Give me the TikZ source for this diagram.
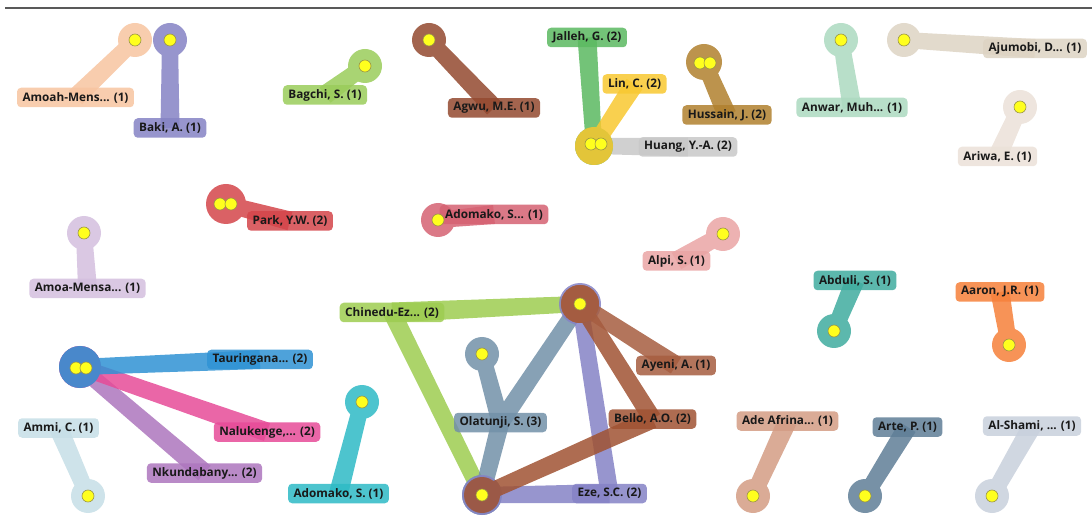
\documentclass[tikz,border=0pt]{standalone}
\usepackage{fontspec}
\setmainfont{Open Sans}
\usetikzlibrary{calc}
\pgfdeclarelayer{bg}
\pgfsetlayers{bg,main}
\definecolor{cAmoah}{HTML}{F7C4A0}
\definecolor{cBaki}{HTML}{8583C4}
\definecolor{cBagchi}{HTML}{9ACC5A}
\definecolor{cAgwu}{HTML}{93492F}
\definecolor{cJalleh}{HTML}{5BB960}
\definecolor{cLin}{HTML}{F8C830}
\definecolor{cHuang}{HTML}{C8C8C8}
\definecolor{cHussain}{HTML}{B0802E}
\definecolor{cAnwar}{HTML}{ACD9C0}
\definecolor{cAjumobi}{HTML}{DDD3C3}
\definecolor{cAriwa}{HTML}{EBE1D8}
\definecolor{cPark}{HTML}{D4454A}
\definecolor{cAdomakoA}{HTML}{D56172}
\definecolor{cAlpi}{HTML}{EAA4A4}
\definecolor{cAmoa}{HTML}{D3BEDE}
\definecolor{cAbduli}{HTML}{3FAC9F}
\definecolor{cAaron}{HTML}{F6803A}
\definecolor{cTaur}{HTML}{2F92D4}
\definecolor{cNaluk}{HTML}{E64B98}
\definecolor{cNkund}{HTML}{AD76BD}
\definecolor{cAmmi}{HTML}{C6DEE6}
\definecolor{cAdomakoB}{HTML}{2EBAC5}
\definecolor{cChin}{HTML}{9DCC50}
\definecolor{cOlat}{HTML}{7290A8}
\definecolor{cAyeni}{HTML}{A65D40}
\definecolor{cBello}{HTML}{A05232}
\definecolor{cEze}{HTML}{8582C6}
\definecolor{cAde}{HTML}{D39C84}
\definecolor{cArte}{HTML}{5F7E97}
\definecolor{cShami}{HTML}{C8D0DC}
\definecolor{cDot}{HTML}{FFFF1E}
\tikzset{
  grp/.style={transparency group, opacity=.85},
  lab/.style={fill=#1, fill opacity=.85, text opacity=1, rounded corners=4bp,
    minimum height=19.5bp, inner xsep=5.5bp, inner ysep=0pt,
    font=\fontsize{11.8}{13}\selectfont\bfseries, text=black!90},
  dot/.style={circle, minimum size=12bp, inner sep=0pt, fill=cDot,
    draw=black!45!yellow, line width=0.6bp},
}
\newcommand\band[4]{($(#1.center)!#3!90:(#2.center)$) -- ($(#1.center)!#3!-90:(#2.center)$) -- ($(#2.center)!#4!90:(#1.center)$) -- ($(#2.center)!#4!-90:(#1.center)$) -- cycle}
% #1 colour, #2 dot, #3 label, #4 radius
\newcommand\lol[4]{\begin{scope}[grp]
  \fill[#1] (#2.center) circle (#4);
  \fill[#1] \band{#2}{#3}{8bp}{9.5bp};
\end{scope}}
\begin{document}
\begin{tikzpicture}[x=1bp,y=-1bp]
\useasboundingbox (0,0) rectangle (1092,519);
\draw[black!65, line width=1.2bp] (5,8) -- (1092,8);

% ---------- labels ----------
\node[lab=cAmoah] (lAmoah) at (75.5,97.5) {Amoah-Mens... (1)};
\node[lab=cBaki] (lBaki) at (170,128) {Baki, A. (1)};
\node[lab=cBagchi] (lBagchi) at (325,95) {Bagchi, S. (1)};
\node[lab=cAgwu] (lAgwu) at (494,108) {Agwu, M.E. (1)};
\node[lab=cJalleh] (lJalleh) at (587,37.5) {Jalleh, G. (2)};
\node[lab=cLin] (lLin) at (634.5,84) {Lin, C. (2)};
\node[lab=cHuang] (lHuang) at (688,147) {Huang, Y.-A. (2)};
\node[lab=cHussain] (lHussain) at (727,115) {Hussain, J. (2)};
\node[lab=cAnwar] (lAnwar) at (852,107.5) {Anwar, Muh... (1)};
\node[lab=cAjumobi] (lAjumobi) at (1035,48.5) {Ajumobi, D... (1)};
\node[lab=cAriwa] (lAriwa) at (997.5,156.5) {Ariwa, E. (1)};
\node[lab=cPark] (lPark) at (290,221) {Park, Y.W. (2)};
\node[lab=cAdomakoA] (lAdomakoA) at (494,214.5) {Adomako, S... (1)};
\node[lab=cAlpi] (lAlpi) at (676.5,261) {Alpi, S. (1)};
\node[lab=cAmoa] (lAmoa) at (87.5,288.5) {Amoa-Mensa... (1)};
\node[lab=cAbduli] (lAbduli) at (855,280.5) {Abduli, S. (1)};
\node[lab=cAaron] (lAaron) at (1000,292) {Aaron, J.R. (1)};
\node[lab=cTaur] (lTaur) at (260,359.5) {Tauringana... (2)};
\node[lab=cNaluk] (lNaluk) at (267,432) {Nalukenge,... (2)};
\node[lab=cNkund] (lNkund) at (204.5,473) {Nkundabany... (2)};
\node[lab=cAmmi] (lAmmi) at (58.5,428) {Ammi, C. (1)};
\node[lab=cAdomakoB] (lAdomakoB) at (338.5,493.5) {Adomako, S. (1)};
\node[lab=cChin] (lChin) at (392,312.5) {Chinedu-Ez... (2)};
\node[lab=cOlat] (lOlat) at (500.5,422.5) {Olatunji, S. (3)};
\node[lab=cAyeni] (lAyeni) at (676,365.5) {Ayeni, A. (1)};
\node[lab=cBello] (lBello) at (652.5,419) {Bello, A.O. (2)};
\node[lab=cEze] (lEze) at (609.5,493.5) {Eze, S.C. (2)};
\node[lab=cAde] (lAde) at (787.5,421) {Ade Afrina... (1)};
\node[lab=cArte] (lArte) at (907.5,427) {Arte, P. (1)};
\node[lab=cShami] (lShami) at (1032,426) {Al-Shami, ... (1)};

% ---------- dots ----------
\node[dot] (dAmoah) at (135,40) {};
\node[dot] (dBaki) at (170,40) {};
\node[dot] (dBagchi) at (365,66) {};
\node[dot] (dAgwu) at (429,40) {};
\coordinate (cJLH) at (594,146);
\node[dot] (dJLH1) at (591,144) {};
\node[dot] (dJLH2) at (601,144) {};
\coordinate (cHus) at (704,62);
\node[dot] (dHus1) at (700,63) {};
\node[dot] (dHus2) at (710,63) {};
\node[dot] (dAnwar) at (841,40) {};
\node[dot] (dAjumobi) at (904,40) {};
\node[dot] (dAriwa) at (1020,107) {};
\coordinate (cPark) at (226,204);
\node[dot] (dPark1) at (220,204) {};
\node[dot] (dPark2) at (231,204) {};
\node[dot] (dAdomakoA) at (438,220) {};
\node[dot] (dAlpi) at (723,234) {};
\node[dot] (dAmoa) at (84,233) {};
\node[dot] (dAbduli) at (834,331) {};
\node[dot] (dAaron) at (1009,345) {};
\coordinate (cTNN) at (80,367);
\node[dot] (dTNN1) at (76,368) {};
\node[dot] (dTNN2) at (86,368) {};
\node[dot] (dAmmi) at (88,496) {};
\node[dot] (dAdomakoB) at (362,402) {};
\node[dot] (dOlat) at (482,354) {};
\node[dot] (nTop) at (580,304) {};
\node[dot] (nBot) at (482,495) {};
\node[dot] (dAde) at (753,496) {};
\node[dot] (dArte) at (865,496) {};
\node[dot] (dShami) at (992,496) {};

% ---------- bands ----------
\begin{pgfonlayer}{bg}
\lol{cAmoah}{dAmoah}{lAmoah}{17bp}
\lol{cBaki}{dBaki}{lBaki}{17bp}
\lol{cBagchi}{dBagchi}{lBagchi}{17bp}
\lol{cAgwu}{dAgwu}{lAgwu}{17bp}
\lol{cHuang}{cJLH}{lHuang}{19bp}
\lol{cJalleh}{cJLH}{lJalleh}{19bp}
\lol{cLin}{cJLH}{lLin}{19bp}
\lol{cHussain}{cHus}{lHussain}{18bp}
\lol{cAnwar}{dAnwar}{lAnwar}{17bp}
\lol{cAjumobi}{dAjumobi}{lAjumobi}{17bp}
\lol{cAriwa}{dAriwa}{lAriwa}{17bp}
\lol{cPark}{cPark}{lPark}{20bp}
\lol{cAdomakoA}{dAdomakoA}{lAdomakoA}{17bp}
\lol{cAlpi}{dAlpi}{lAlpi}{17bp}
\lol{cAmoa}{dAmoa}{lAmoa}{17bp}
\lol{cAbduli}{dAbduli}{lAbduli}{17bp}
\lol{cAaron}{dAaron}{lAaron}{17bp}
\lol{cNkund}{cTNN}{lNkund}{21bp}
\lol{cNaluk}{cTNN}{lNaluk}{21bp}
\lol{cTaur}{cTNN}{lTaur}{21bp}
\lol{cAmmi}{dAmmi}{lAmmi}{17bp}
\lol{cAdomakoB}{dAdomakoB}{lAdomakoB}{17bp}
\lol{cAde}{dAde}{lAde}{17bp}
\lol{cArte}{dArte}{lArte}{17bp}
\lol{cShami}{dShami}{lShami}{17bp}
% network
\begin{scope}[grp]
  \fill[cChin] (nTop.center) circle (19bp);
  \fill[cChin] (nBot.center) circle (19bp);
  \fill[cChin] \band{nTop}{lChin}{8bp}{10bp};
  \fill[cChin] \band{nBot}{lChin}{8bp}{9bp};
\end{scope}
\begin{scope}[grp]
  \fill[cOlat] (dOlat.center) circle (17bp);
  \fill[cOlat] (nTop.center) circle (19bp);
  \fill[cOlat] (nBot.center) circle (20bp);
  \fill[cOlat] \band{dOlat}{lOlat}{8bp}{9bp};
  \fill[cOlat] \band{nTop}{lOlat}{8bp}{9bp};
  \fill[cOlat] \band{nBot}{lOlat}{8bp}{9bp};
\end{scope}
\begin{scope}[grp]
  \fill[cEze] (nTop.center) circle (21bp);
  \fill[cEze] (nBot.center) circle (20bp);
  \fill[cEze] \band{nTop}{lEze}{8bp}{9bp};
  \fill[cEze] \band{nBot}{lEze}{8bp}{9.5bp};
\end{scope}
\begin{scope}[grp]
  \fill[cBello] (nTop.center) circle (19bp);
  \fill[cBello] (nBot.center) circle (18bp);
  \fill[cBello] \band{nTop}{lBello}{8bp}{9bp};
  \fill[cBello] \band{nBot}{lBello}{8bp}{9.5bp};
\end{scope}
\lol{cAyeni}{nTop}{lAyeni}{19bp}
\end{pgfonlayer}
\end{tikzpicture}
\end{document}
